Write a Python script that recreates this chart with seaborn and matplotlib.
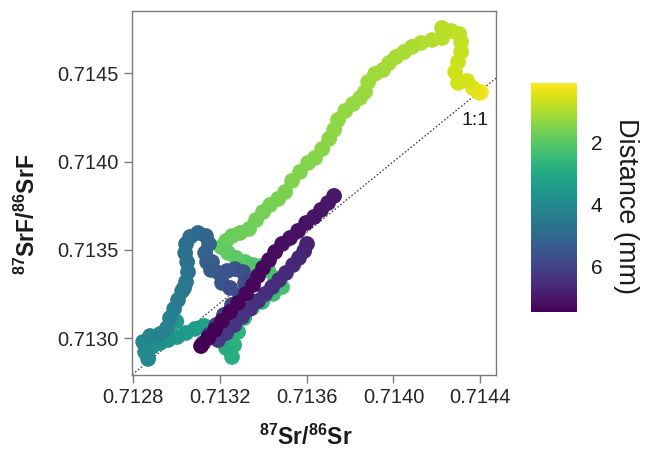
import numpy as np
import pandas as pd
import matplotlib
matplotlib.use("Agg")
import matplotlib.pyplot as plt
import matplotlib.colors as mcolors
import matplotlib.cm as cm
import seaborn as sns

# ---- data ----
sr_ratio = [0.714404, 0.714400, 0.714390, 0.714367, 0.714340, 0.714298, 0.714284, 0.714298, 0.714312, 0.714312,
            0.714303, 0.714266, 0.714224, 0.714224, 0.714178, 0.714127, 0.714086, 0.714049, 0.714012, 0.713980,
            0.713952, 0.713915, 0.713883, 0.713869, 0.713846, 0.713814, 0.713777, 0.713744, 0.713726, 0.713703,
            0.713671, 0.713638, 0.713606, 0.713569, 0.713532, 0.713500, 0.713468, 0.713431, 0.713398, 0.713366,
            0.713334, 0.713292, 0.713255, 0.713228, 0.713205, 0.713237, 0.713274, 0.713315, 0.713352, 0.713389,
            0.713421, 0.713454, 0.713486, 0.713445, 0.713394, 0.713348, 0.713311, 0.713283, 0.713265, 0.713255,
            0.713228, 0.713209, 0.713168, 0.713126, 0.713085, 0.713043, 0.713002, 0.712960, 0.712923, 0.712886,
            0.712854, 0.712868, 0.712845, 0.712877, 0.712923, 0.712955, 0.712969, 0.712988, 0.713006, 0.713025,
            0.713043, 0.713052, 0.713048, 0.713039, 0.713043, 0.713062, 0.713098, 0.713135, 0.713149, 0.713131,
            0.713140, 0.713158, 0.713195, 0.713232, 0.713269, 0.713306, 0.713315, 0.713292, 0.713255, 0.713218,
            0.713182, 0.713149, 0.713122, 0.713191, 0.713228, 0.713265, 0.713301, 0.713338, 0.713375, 0.713408,
            0.713440, 0.713472, 0.713504, 0.713537, 0.713564, 0.713588, 0.713601, 0.713726, 0.713698, 0.713666,
            0.713634, 0.713597, 0.713560, 0.713523, 0.713486, 0.713454, 0.713426, 0.713398, 0.713375, 0.713352,
            0.713320, 0.713283, 0.713246, 0.713209, 0.713177, 0.713145, 0.713112,
            0.713034, 0.713163, 0.713209, 0.713246, 0.713338, 0.712998]

srf_ratio = [0.714395, 0.714389, 0.714395, 0.714417, 0.714457, 0.714446, 0.714508, 0.714565, 0.714621, 0.714678,
             0.714723, 0.714740, 0.714757, 0.714700, 0.714689, 0.714672, 0.714650, 0.714621, 0.714593, 0.714559,
             0.714519, 0.714497, 0.714451, 0.714395, 0.714361, 0.714327, 0.714287, 0.714236, 0.714180, 0.714129,
             0.714072, 0.714021, 0.713993, 0.713942, 0.713891, 0.713828, 0.713789, 0.713755, 0.713715, 0.713670,
             0.713619, 0.713596, 0.713579, 0.713551, 0.713517, 0.713483, 0.713455, 0.713432, 0.713415, 0.713409,
             0.713387, 0.713341, 0.713290, 0.713251, 0.713206, 0.713172, 0.713115, 0.713036, 0.712962, 0.712894,
             0.712945, 0.713013, 0.713047, 0.713070, 0.713053, 0.713030, 0.713007, 0.712990, 0.712973, 0.712951,
             0.712922, 0.712883, 0.712979, 0.713013, 0.713024, 0.713058, 0.713115, 0.713166, 0.713217, 0.713268,
             0.713319, 0.713375, 0.713432, 0.713483, 0.713534, 0.713574, 0.713596, 0.713579, 0.713534, 0.713483,
             0.713432, 0.713387, 0.713370, 0.713381, 0.713392, 0.713375, 0.713313, 0.713245, 0.713189, 0.713132,
             0.713075, 0.713019, 0.712973, 0.712990, 0.713030, 0.713075, 0.713121, 0.713166, 0.713211, 0.713251,
             0.713290, 0.713330, 0.713370, 0.713415, 0.713455, 0.713494, 0.713534, 0.713806, 0.713766, 0.713727,
             0.713687, 0.713653, 0.713608, 0.713568, 0.713534, 0.713489, 0.713443, 0.713398, 0.713353, 0.713302,
             0.713251, 0.713200, 0.713149, 0.713098, 0.713047, 0.713002, 0.712956,
             0.713285, 0.713432, 0.713313, 0.713285, 0.713319, 0.713095]

distance_mm = [0.06, 0.15, 0.30, 0.42, 0.50, 0.56, 0.60, 0.64, 0.68, 0.72,
               0.76, 0.80, 0.84, 0.87, 0.90, 0.93, 0.96, 0.99, 1.02, 1.05,
               1.08, 1.11, 1.14, 1.17, 1.20, 1.23, 1.26, 1.29, 1.32, 1.35,
               1.38, 1.41, 1.44, 1.47, 1.50, 1.53, 1.56, 1.59, 1.62, 1.65,
               1.68, 1.71, 1.74, 1.77, 1.80, 1.86, 1.92, 1.98, 2.04, 2.10,
               2.16, 2.22, 2.28, 2.36, 2.44, 2.52, 2.60, 2.68, 2.76, 2.84,
               2.95, 3.05, 3.15, 3.25, 3.35, 3.45, 3.55, 3.65, 3.75, 3.85,
               3.95, 4.00, 4.05, 4.10, 4.15, 4.20, 4.27, 4.34, 4.41, 4.48,
               4.55, 4.62, 4.69, 4.76, 4.83, 4.90, 4.97, 5.05, 5.13, 5.21,
               5.29, 5.37, 5.45, 5.53, 5.61, 5.69, 5.77, 5.85, 5.93, 6.00,
               6.07, 6.14, 6.20, 6.25, 6.29, 6.33, 6.37, 6.41, 6.45, 6.49,
               6.53, 6.57, 6.61, 6.65, 6.69, 6.73, 6.77, 7.00, 7.03, 7.06,
               7.09, 7.12, 7.15, 7.18, 7.21, 7.24, 7.27, 7.30, 7.32, 7.34,
               7.36, 7.38, 7.40, 7.42, 7.44, 7.46, 7.48,
               4.50, 5.30, 5.50, 5.74, 5.80, 3.50]

x_ticks = [0.7128, 0.7132, 0.7136, 0.7140, 0.7144]
y_ticks = [0.7130, 0.7135, 0.7140, 0.7145]
cbar_ticks = [2, 4, 6]
dist_range = (0.06, 7.48)

df = pd.DataFrame({"sr": sr_ratio, "srf": srf_ratio, "dist": distance_mm})
df = df.sort_values("dist", kind="stable").reset_index(drop=True)

# ---- style ----
sns.set_style("white")
plt.rcParams["font.family"] = ["Liberation Sans", "DejaVu Sans"]
plt.rcParams["mathtext.fontset"] = "custom"
plt.rcParams["mathtext.rm"] = "Liberation Sans"
plt.rcParams["mathtext.bf"] = "Liberation Sans:bold"
plt.rcParams["mathtext.it"] = "Liberation Sans:italic"

W, H = 645, 455
fig = plt.figure(figsize=(W / 100, H / 100), dpi=100)
ax = fig.add_axes([132.3 / W, 1 - 375 / H, (496 - 132.3) / W, (375 - 11) / H])
cax = fig.add_axes([531 / W, 1 - 312 / H, 46 / W, 229 / H])

ax.set_xlim(0.712795, 0.714473)
ax.set_ylim(0.712792, 0.714853)

# 1:1 reference line (under points)
ax.axline((0.7128, 0.7128), slope=1, color="#3a3a3a", lw=0.9,
          linestyle=(0, (1.3, 1.6)), zorder=1)

norm = mcolors.Normalize(vmin=dist_range[0], vmax=dist_range[1])
sns.scatterplot(data=df, x="sr", y="srf", hue="dist", palette="viridis_r",
                hue_norm=norm, s=128, linewidth=0, legend=False, ax=ax, zorder=2)

ax.text(0.714377, 0.714231, "1:1", ha="center", va="center", fontsize=14, color="#1a1a1a")

ax.set_xticks(x_ticks)
ax.set_xticklabels([f"{v:.4f}" for v in x_ticks])
ax.set_yticks(y_ticks)
ax.set_yticklabels([f"{v:.4f}" for v in y_ticks])
ax.tick_params(axis="both", which="major", length=5.8, width=1.0, color="#7a7a7a",
               labelsize=14.5, labelcolor="#262626", pad=3.8, direction="out")
ax.tick_params(axis="x", bottom=True)
ax.tick_params(axis="y", left=True)
for sp in ax.spines.values():
    sp.set_color("#7a7a7a")
    sp.set_linewidth(1.0)

ax.set_xlabel(r"$\mathbf{^{87}Sr/^{86}Sr}$", fontsize=16.5, color="#1a1a1a")
ax.set_ylabel(r"$\mathbf{^{87}SrF/^{86}SrF}$", fontsize=16.5, color="#1a1a1a")
ax.xaxis.set_label_coords(0.477, -0.137)
ax.yaxis.set_label_coords(-0.255, 0.44)

# colorbar
sm = cm.ScalarMappable(norm=norm, cmap="viridis_r")
cbar = fig.colorbar(sm, cax=cax)
cbar.outline.set_visible(False)
cax.invert_yaxis()
cbar.set_ticks(cbar_ticks)
cax.tick_params(axis="y", direction="in", length=6.5, width=1.0, color="white",
                left=True, right=True, labelleft=False, labelright=True,
                labelsize=15, labelcolor="#1a1a1a", pad=10)
cbar.set_label("Distance (mm)", rotation=270, fontsize=19.5, color="#1a1a1a")
cax.yaxis.set_label_coords(2.065, 0.463)
cax.yaxis.label.set_va("center")

fig.savefig("out.png", dpi=100)
